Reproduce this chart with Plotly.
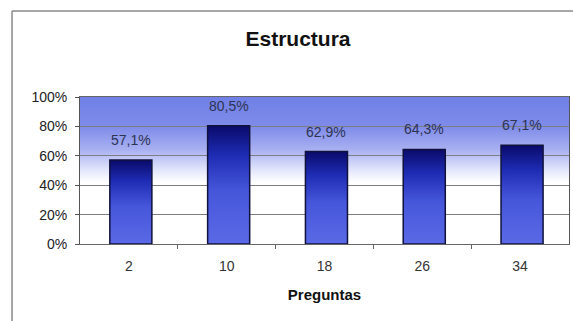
import base64
import plotly.graph_objects as go

# Data
preguntas = ["2", "10", "18", "26", "34"]
porcentajes = [57.1, 80.5, 62.9, 64.3, 67.1]
y_ticks = [0, 20, 40, 60, 80, 100]
y_tick_labels = ["0%", "20%", "40%", "60%", "80%", "100%"]

FONT = "Liberation Sans, Arial, sans-serif"
BAR_W = 0.43

fig = go.Figure()

# Bars drawn as filled polygons so that each one can carry a vertical gradient
for i, (cat, val) in enumerate(zip(preguntas, porcentajes)):
    x0, x1 = i + 0.02 - BAR_W / 2, i + 0.02 + BAR_W / 2
    fig.add_trace(go.Scatter(
        x=[x0, x0, x1, x1, x0],
        y=[0, val, val, 0, 0],
        mode="lines",
        fill="toself",
        fillgradient=dict(
            type="vertical",
            colorscale=[[0, "#5a6ae6"], [0.45, "#4656da"],
                        [0.75, "#1e2cb4"], [1, "#0a0a6a"]],
        ),
        line=dict(color="#10123c", width=1.5),
        hoverinfo="skip",
        showlegend=False,
    ))

# Value labels with comma decimal separator
for i, val in enumerate(porcentajes):
    fig.add_annotation(
        x=i + 0.02, y=val, text=f"{val:.1f}%".replace(".", ","),
        showarrow=False, yanchor="bottom", yshift=10,
        font=dict(family=FONT, size=14, color="#2e3352"),
    )

# Plot-area background: blue band fading to white
svg = (
    '<svg xmlns="http://www.w3.org/2000/svg" width="100" height="100" '
    'viewBox="0 0 100 100" preserveAspectRatio="none">'
    '<defs><linearGradient id="g" x1="0" y1="0" x2="0" y2="1">'
    '<stop offset="0" stop-color="#7080e6"/>'
    '<stop offset="0.2" stop-color="#7e8be9"/>'
    '<stop offset="0.36" stop-color="#a9b1f1"/>'
    '<stop offset="0.5" stop-color="#e4e7fb"/>'
    '<stop offset="0.58" stop-color="#ffffff"/>'
    '<stop offset="1" stop-color="#ffffff"/>'
    '</linearGradient></defs>'
    '<rect width="100" height="100" fill="url(#g)"/></svg>'
)
fig.add_layout_image(
    source="data:image/svg+xml;base64," + base64.b64encode(svg.encode()).decode(),
    xref="paper", yref="paper", x=0, y=1, sizex=1, sizey=1,
    xanchor="left", yanchor="top", sizing="stretch", layer="below",
)

# Outer chart frame (top and left edges)
fig.add_shape(type="line", xref="paper", yref="paper",
              x0=-0.139, x1=1.05, y0=1.585, y1=1.585,
              line=dict(color="#8a8a8a", width=1.5))
fig.add_shape(type="line", xref="paper", yref="paper",
              x0=-0.139, x1=-0.139, y0=1.585, y1=-0.6,
              line=dict(color="#8a8a8a", width=1.5))

fig.update_layout(
    width=573, height=321,
    margin=dict(l=80, r=4, t=97, b=77),
    paper_bgcolor="white",
    plot_bgcolor="white",
    title=dict(text="<b>Estructura</b>", x=298 / 573, xanchor="center",
               y=1 - 39 / 321, yanchor="middle",
               font=dict(family=FONT, size=21, color="#111111")),
    font=dict(family=FONT, size=14, color="#222222"),
    showlegend=False,
)

fig.update_xaxes(
    range=[-0.5, 4.5],
    tickmode="array", tickvals=list(range(len(preguntas))), ticktext=preguntas,
    ticks="", showgrid=False, zeroline=False, ticklabelstandoff=9,
    showline=True, linecolor="#666666", linewidth=1, mirror=True,
    tickfont=dict(family=FONT, size=14, color="#333333"),
    minor=dict(tickvals=[i + 0.5 for i in range(len(preguntas) - 1)],
               ticks="outside", ticklen=4, tickcolor="#666666", showgrid=False),
    title=dict(text="<b>Preguntas</b>", standoff=16,
               font=dict(family=FONT, size=15, color="#111111")),
)

fig.update_yaxes(
    range=[0, 100],
    tickmode="array", tickvals=y_ticks, ticktext=y_tick_labels,
    ticks="outside", ticklen=4, tickcolor="#555555", ticklabelstandoff=5,
    showgrid=True, gridcolor="#7d7d85", gridwidth=1, zeroline=False,
    showline=True, linecolor="#555555", linewidth=1, mirror=True,
    tickfont=dict(family=FONT, size=14, color="#222222"),
)

fig.write_html("out.html")
